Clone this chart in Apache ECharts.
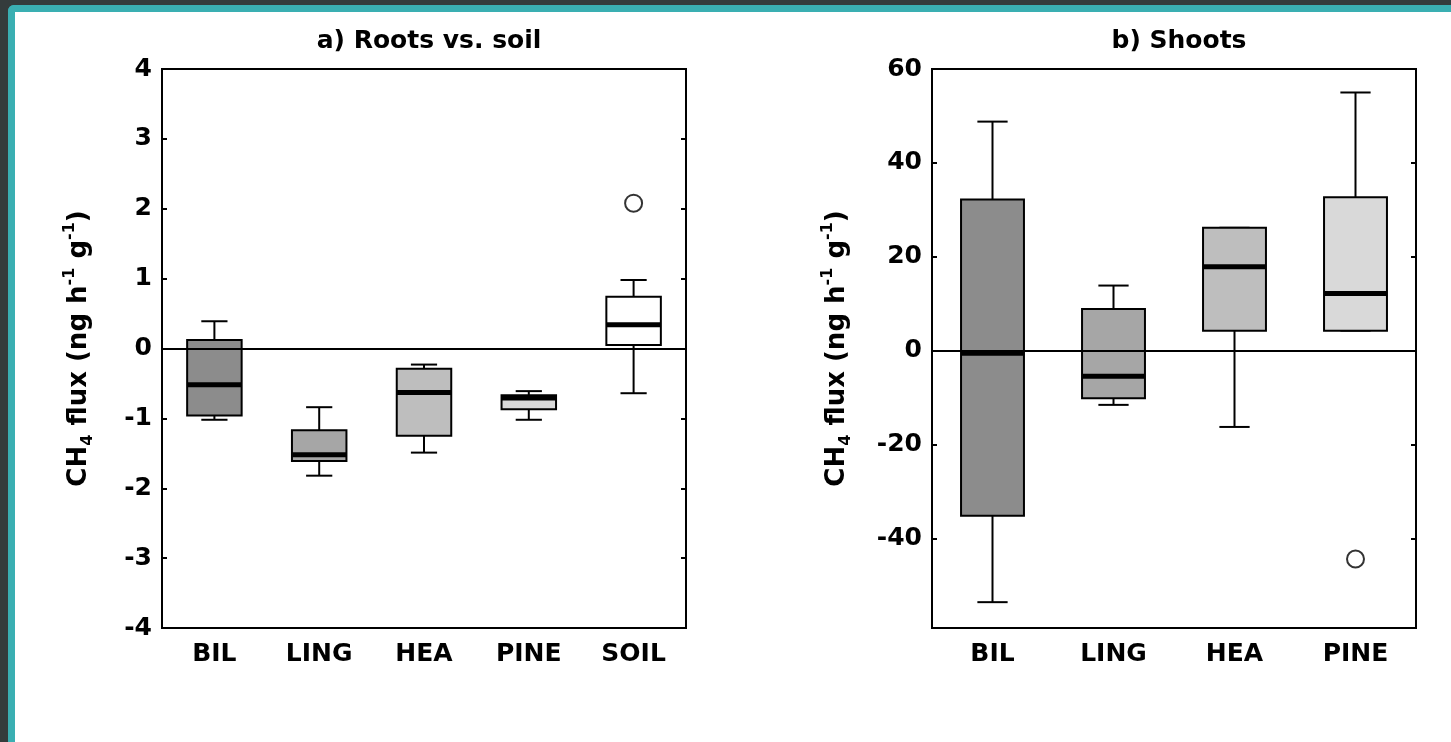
<!DOCTYPE html>
<html>
<head>
<meta charset="utf-8">
<script src="https://cdn.jsdelivr.net/npm/echarts@6/dist/echarts.min.js"></script>
<style>
  html, body { margin: 0; padding: 0; background: #343c3c; }
  #frame {
    position: absolute; left: 8px; top: 5px; width: 1460px; height: 760px;
    background: #fff; border-left: 7px solid #3aafb2; border-top: 7px solid #3aafb2;
    border-top-left-radius: 6px;
  }
  #main { position: absolute; left: 0; top: 0; width: 1451px; height: 742px; }
</style>
</head>
<body>
<div id="frame"></div>
<div id="main"></div>
<script>
// a) Roots vs. soil
const rootsCats = ['BIL', 'LING', 'HEA', 'PINE', 'SOIL'];
const rootsMin = [-1.02, -1.82, -1.49, -1.02, -0.64];
const rootsQ1  = [-0.96, -1.61, -1.25, -0.87, 0.05];
const rootsMed = [-0.52, -1.52, -0.63, -0.71, 0.34];
const rootsQ3  = [0.12, -1.17, -0.29, -0.67, 0.74];
const rootsMax = [0.39, -0.84, -0.23, -0.61, 0.98];
const rootsOutliers = [['SOIL', 2.08]];
const rootsTicks = [-4, -3, -2, -1, 0, 1, 2, 3, 4];

// b) Shoots
const shootsCats = ['BIL', 'LING', 'HEA', 'PINE'];
const shootsMin = [-53.5, -11.5, -16.2, 4.3];
const shootsQ1  = [-35.1, -10.1, 4.3, 4.3];
const shootsMed = [-0.5, -5.4, 17.9, 12.2];
const shootsQ3  = [32.2, 8.9, 26.2, 32.7];
const shootsMax = [48.8, 13.9, 26.2, 55.0];
const shootsOutliers = [['PINE', -44.3]];
const shootsTicks = [-40, -20, 0, 20, 40, 60];

const boxFills = ['#8c8c8c', '#a6a6a6', '#bebebe', '#d9d9d9', '#ffffff'];
const FONT = 'DejaVu Sans';

function boxRows(mins, q1s, meds, q3s, maxs) {
    let rows = [];
    mins.forEach(function (v, i) {
        rows.push([i, v, q1s[i], meds[i], q3s[i], maxs[i]]);
    });
    return rows;
}

// matlab style box: narrow whisker caps, thick median
function renderBox(params, api) {
    let x = api.value(0);
    let lo = api.coord([x, api.value(1)]);
    let q1 = api.coord([x, api.value(2)]);
    let md = api.coord([x, api.value(3)]);
    let q3 = api.coord([x, api.value(4)]);
    let hi = api.coord([x, api.value(5)]);
    let band = api.size([1, 0])[0];
    let bw = band * 0.52, cw = band * 0.25;
    let cx = md[0];
    let line = function (x1, y1, x2, y2, w) {
        return {type: 'line', shape: {x1: x1, y1: y1, x2: x2, y2: y2},
                style: {stroke: '#000', lineWidth: w}};
    };
    return {
        type: 'group',
        children: [
            line(cx, q3[1], cx, hi[1], 2),
            line(cx - cw / 2, hi[1], cx + cw / 2, hi[1], 2),
            line(cx, q1[1], cx, lo[1], 2),
            line(cx - cw / 2, lo[1], cx + cw / 2, lo[1], 2),
            {type: 'rect', shape: {x: cx - bw / 2, y: q3[1], width: bw, height: q1[1] - q3[1]},
             style: {fill: boxFills[params.dataIndex], stroke: '#000', lineWidth: 2}},
            line(cx - bw / 2, md[1], cx + bw / 2, md[1], 5)
        ]
    };
}

const labelStyle = {color: '#000', fontFamily: FONT, fontWeight: 'bold', fontSize: 25};

function yName() {
    return '{b|CH}{s|4}{b| flux (ng h}{p|-1}{b| g}{p|-1}{b|)}';
}
const nameStyle = {
    rich: {
        b: {color: '#000', fontFamily: FONT, fontWeight: 'bold', fontSize: 26, lineHeight: 34},
        s: {color: '#000', fontFamily: FONT, fontWeight: 'bold', fontSize: 16, lineHeight: 15, verticalAlign: 'bottom'},
        p: {color: '#000', fontFamily: FONT, fontWeight: 'bold', fontSize: 16, lineHeight: 15, verticalAlign: 'top'}
    }
};

function yAxes(gi, min, max, ticks, gap) {
    return [{
        type: 'value', gridIndex: gi, min: min, max: max, position: 'left',
        name: yName(), nameLocation: 'middle', nameRotate: 90, nameGap: gap,
        nameTextStyle: nameStyle,
        axisLine: {show: false},
        axisTick: {show: true, inside: true, length: 5, customValues: ticks, lineStyle: {color: '#000', width: 2}},
        axisLabel: Object.assign({margin: 10, customValues: ticks}, labelStyle),
        splitLine: {show: false}
    }, {
        type: 'value', gridIndex: gi, min: min, max: max, position: 'right',
        axisLine: {show: false},
        axisTick: {show: true, inside: true, length: 5, customValues: ticks, lineStyle: {color: '#000', width: 2}},
        axisLabel: {show: false},
        splitLine: {show: false}
    }];
}

function xAxis(gi, cats) {
    return {
        type: 'category', gridIndex: gi, data: cats, boundaryGap: true,
        axisLine: {show: false}, axisTick: {show: false},
        axisLabel: Object.assign({margin: 14}, labelStyle)
    };
}

const zeroLine = {
    silent: true, symbol: 'none', label: {show: false},
    lineStyle: {color: '#000', width: 2, type: 'solid'},
    data: [{yAxis: 0}]
};

const outlierStyle = {color: '#fff', borderColor: '#000', borderWidth: 2};

let myChart = echarts.init(document.getElementById('main'));
let option = {
    animation: false,
    title: [
        {text: 'a) Roots vs. soil', left: 424, top: 24, textAlign: 'center',
         textStyle: {color: '#000', fontFamily: FONT, fontWeight: 'bold', fontSize: 25}},
        {text: 'b) Shoots', left: 1174, top: 24, textAlign: 'center',
         textStyle: {color: '#000', fontFamily: FONT, fontWeight: 'bold', fontSize: 25}}
    ],
    grid: [
        {left: 162, top: 69, width: 524, height: 559, show: true, borderColor: '#000', borderWidth: 2, backgroundColor: 'transparent'},
        {left: 932, top: 69, width: 484, height: 559, show: true, borderColor: '#000', borderWidth: 2, backgroundColor: 'transparent'}
    ],
    xAxis: [xAxis(0, rootsCats), xAxis(1, shootsCats)],
    yAxis: yAxes(0, -4, 4, rootsTicks, 66).concat(yAxes(1, -59, 60, shootsTicks, 78)),
    series: [
        {type: 'custom', xAxisIndex: 0, yAxisIndex: 0, renderItem: renderBox,
         encode: {x: 0, y: [1, 2, 3, 4, 5]},
         data: boxRows(rootsMin, rootsQ1, rootsMed, rootsQ3, rootsMax), markLine: zeroLine, z: 2},
        {type: 'scatter', xAxisIndex: 0, yAxisIndex: 0, symbol: 'circle', symbolSize: 17,
         itemStyle: outlierStyle, data: rootsOutliers, z: 3},
        {type: 'custom', xAxisIndex: 1, yAxisIndex: 2, renderItem: renderBox,
         encode: {x: 0, y: [1, 2, 3, 4, 5]},
         data: boxRows(shootsMin, shootsQ1, shootsMed, shootsQ3, shootsMax), markLine: zeroLine, z: 2},
        {type: 'scatter', xAxisIndex: 1, yAxisIndex: 2, symbol: 'circle', symbolSize: 17,
         itemStyle: outlierStyle, data: shootsOutliers, z: 3}
    ]
};
myChart.setOption(option);
</script>
</body>
</html>
